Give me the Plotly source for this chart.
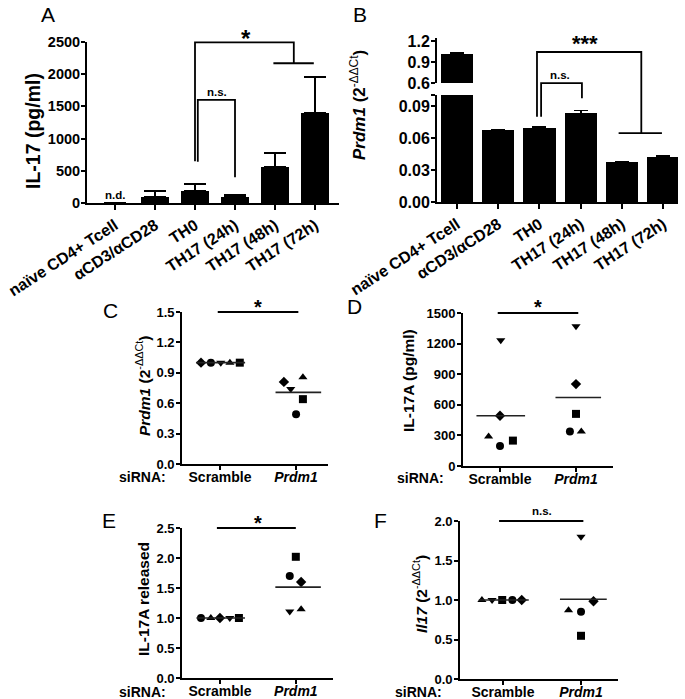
import numpy as np
import plotly.graph_objects as go

W, H = 685, 699
FONT = "Liberation Sans"

# ---------------- data ----------------
A_categories = ["naïve CD4+ Tcell", "αCD3/αCD28", "TH0", "TH17 (24h)", "TH17 (48h)", "TH17 (72h)"]
A_il17 = [0, 100, 187, 94, 565, 1400]
A_il17_err = [0, 85, 113, 36, 215, 560]

B_categories = A_categories
B_prdm1 = [1.02, 0.0673, 0.0697, 0.0832, 0.0373, 0.0425]
B_prdm1_err = [0.015, 0.0006, 0.0008, 0.0028, 0.0004, 0.0005]

groups = ["Scramble", "Prdm1"]
group_labels = ["Scramble", "<i>Prdm1</i>"]

C_scramble = [1.0, 1.0, 1.0, 1.0, 1.0]
C_prdm1 = [0.81, 0.74, 0.855, 0.64, 0.49]
D_scramble = [1233, 492, 289, 197, 249]
D_prdm1 = [1370, 803, 511, 338, 338]
E_scramble = [1.0, 1.0, 1.0, 1.0, 1.0]
E_prdm1 = [2.02, 1.70, 1.60, 1.11, 1.145]
F_scramble = [1.0, 1.0, 1.0, 1.0, 1.0]
F_prdm1 = [1.80, 0.985, 0.87, 0.85, 0.547]

# marker symbols per point (one per donor) and horizontal jitter (style)
SYM = {
    "C": (["diamond", "circle", "triangle-down", "triangle-up", "square"],
          ["diamond", "triangle-down", "triangle-up", "square", "circle"]),
    "D": (["triangle-down", "diamond", "triangle-up", "circle", "square"],
          ["triangle-down", "diamond", "square", "circle", "triangle-up"]),
    "E": (["circle", "triangle-up", "diamond", "triangle-down", "square"],
          ["square", "circle", "diamond", "triangle-down", "triangle-up"]),
    "F": (["triangle-up", "triangle-down", "square", "circle", "diamond"],
          ["triangle-down", "diamond", "triangle-up", "circle", "square"]),
}
JIT = {
    "C": ([-0.25, -0.12, 0.01, 0.13, 0.26], [-0.16, -0.07, 0.09, 0.09, 0.0]),
    "D": ([0.01, 0.0, -0.15, 0.0, 0.17], [0.0, 0.0, 0.0, -0.08, 0.07]),
    "E": ([-0.25, -0.12, 0.0, 0.13, 0.25], [0.0, -0.08, 0.07, -0.08, 0.07]),
    "F": ([-0.27, -0.14, -0.01, 0.12, 0.24], [0.0, 0.16, -0.16, 0.0, 0.0]),
}

# ---------------- layout geometry (pixels -> paper) ----------------
def sx(px):
    return px / W

def sy(py):
    return 1 - py / H

def xdom(a, b):
    return [sx(a), sx(b)]

def ydom(top, bot):
    return [sy(bot), sy(top)]

AX = {
    "A": dict(x="x", y="y", xd=xdom(87, 339), yd=ydom(42, 203), xr=[-0.7, 5.6], yr=[0, 2500]),
    "B": dict(x="x2", y="y2", xd=xdom(437, 678), yd=ydom(95, 202), xr=[-0.485, 5.36], yr=[0, 0.1005]),
    "Bu": dict(x="x3", y="y3", xd=xdom(437, 678), yd=ydom(38, 83), xr=[-0.485, 5.36], yr=[0.6, 1.243]),
    "C": dict(x="x4", y="y4", xd=xdom(182, 328), yd=ydom(312, 464), xr=[-0.5, 1.42], yr=[0, 1.5]),
    "D": dict(x="x5", y="y5", xd=xdom(463, 613), yd=ydom(313, 466), xr=[-0.487, 1.487], yr=[0, 1500]),
    "E": dict(x="x6", y="y6", xd=xdom(182, 333), yd=ydom(528, 678), xr=[-0.5, 1.49], yr=[0, 2.5]),
    "F": dict(x="x7", y="y7", xd=xdom(460, 618), yd=ydom(521, 679), xr=[-0.551, 1.474], yr=[0, 2.0]),
}

def P(ax, xv, yv):
    a = AX[ax]
    xd, xr, yd, yr = a["xd"], a["xr"], a["yd"], a["yr"]
    px = xd[0] + (xv - xr[0]) / (xr[1] - xr[0]) * (xd[1] - xd[0])
    py = yd[0] + (yv - yr[0]) / (yr[1] - yr[0]) * (yd[1] - yd[0])
    return px, py

def aname(ref):
    return ref[0] + "axis" + ref[1:]

fig = go.Figure()

# ---------------- panel A bars ----------------
fig.add_bar(x=A_categories, y=A_il17, xaxis="x", yaxis="y", width=0.7,
            marker=dict(color="black", line=dict(width=0)),
            error_y=dict(type="data", array=A_il17_err, arrayminus=[0] * len(A_il17),
                         symmetric=False, color="black", thickness=1.8, width=11))

# ---------------- panel B bars (broken axis) ----------------
for xr_, yr_ in (("x2", "y2"), ("x3", "y3")):
    fig.add_bar(x=B_categories, y=B_prdm1, xaxis=xr_, yaxis=yr_, width=0.78,
                marker=dict(color="black", line=dict(width=0)),
                error_y=dict(type="data", array=B_prdm1_err, arrayminus=[0] * len(B_prdm1),
                             symmetric=False, color="black", thickness=1.8, width=7))

# ---------------- scatter panels ----------------
scatter_data = {"C": (C_scramble, C_prdm1), "D": (D_scramble, D_prdm1),
                "E": (E_scramble, E_prdm1), "F": (F_scramble, F_prdm1)}
mean_ext = [(-0.31, 0.33), (-0.27, 0.33)]
for key, (sv, pv) in scatter_data.items():
    a = AX[key]
    for gi, vals in enumerate((sv, pv)):
        xs = [gi + j for j in JIT[key][gi]]
        fig.add_scatter(x=xs, y=vals, xaxis=a["x"], yaxis=a["y"], mode="markers",
                        marker=dict(symbol=SYM[key][gi], size=8, color="black",
                                    line=dict(width=0)),
                        cliponaxis=False)
        m = float(np.mean(vals))
        lo, hi = mean_ext[gi]
        fig.add_scatter(x=[gi + lo, gi + hi], y=[m, m], xaxis=a["x"], yaxis=a["y"],
                        mode="lines", line=dict(color="#222", width=1.6))

# ---------------- axes ----------------
base = dict(showline=True, linecolor="black", ticks="outside", tickcolor="black",
            showgrid=False, zeroline=False, mirror=False, fixedrange=True, automargin=False)
layout_axes = {}
tf = lambda s: dict(family=FONT, size=s, color="black", weight="bold")

# A
layout_axes["xaxis"] = dict(base, domain=AX["A"]["xd"], range=AX["A"]["xr"], anchor="y",
                            type="category", tickangle=-33, tickfont=tf(16),
                            linewidth=2, tickwidth=2, ticklen=5)
layout_axes["yaxis"] = dict(base, domain=AX["A"]["yd"], range=AX["A"]["yr"], anchor="x",
                            tickvals=[0, 500, 1000, 1500, 2000, 2500], tickformat="d",
                            tickfont=tf(14.5), linewidth=2, tickwidth=2, ticklen=4,
                            ticklabelstandoff=-2)
# B
layout_axes["xaxis2"] = dict(base, domain=AX["B"]["xd"], range=AX["B"]["xr"], anchor="y2",
                             type="category", tickangle=-33, tickfont=tf(16),
                             linewidth=2, tickwidth=2, ticklen=5)
layout_axes["yaxis2"] = dict(base, domain=AX["B"]["yd"], range=AX["B"]["yr"], anchor="x2",
                             tickvals=[0, 0.03, 0.06, 0.09, 0.1003],
                             ticktext=["0.00", "0.03", "0.06", "0.09", ""],
                             tickfont=tf(16), linewidth=2, tickwidth=2, ticklen=4,
                             ticklabelstandoff=-2)
layout_axes["xaxis3"] = dict(domain=AX["Bu"]["xd"], range=AX["Bu"]["xr"], anchor="y3",
                             type="category", visible=False, fixedrange=True, automargin=False)
layout_axes["yaxis3"] = dict(base, domain=AX["Bu"]["yd"], range=AX["Bu"]["yr"], anchor="x3",
                             tickvals=[0.6, 0.9, 1.2], ticktext=["0.6", "0.9", "1.2"],
                             tickfont=tf(16), linewidth=2, tickwidth=2, ticklen=4,
                             ticklabelstandoff=-2)
# C-F
ytick_sets = {"C": [0, 0.3, 0.6, 0.9, 1.2, 1.5], "D": [0, 300, 600, 900, 1200, 1500],
              "E": [0, 0.5, 1.0, 1.5, 2.0, 2.5], "F": [0, 0.5, 1.0, 1.5, 2.0]}
yfmt = {"C": ".1f", "D": "d", "E": ".1f", "F": ".1f"}
for key in "CDEF":
    a = AX[key]
    layout_axes[aname(a["x"])] = dict(base, domain=a["xd"], range=a["xr"], anchor=a["y"],
                                      tickvals=[0, 1], ticktext=group_labels,
                                      tickfont=tf(14), linewidth=1.8, tickwidth=1.8, ticklen=4,
                                      ticklabelstandoff=-5)
    layout_axes[aname(a["y"])] = dict(base, domain=a["yd"], range=a["yr"], anchor=a["x"],
                                      tickvals=ytick_sets[key], tickformat=yfmt[key],
                                      tickfont=tf(13), linewidth=1.8, tickwidth=1.8, ticklen=4,
                                      ticklabelstandoff=-1)

# ---------------- brackets ----------------
shapes = []
def poly(pts, width=1.8):
    d = "M " + " L ".join(f"{x:.5f},{y:.5f}" for x, y in pts)
    shapes.append(dict(type="path", path=d, xref="paper", yref="paper",
                       line=dict(color="black", width=width)))

# A: n.s. and * brackets
poly([P("A", 2.07, 640), P("A", 2.07, 1600), P("A", 3.0, 1600), P("A", 3.0, 400)])
poly([P("A", 2.0, 650), P("A", 2.0, 2495), P("A", 4.47, 2495), P("A", 4.47, 2170)])
poly([P("A", 3.96, 2170), P("A", 4.97, 2170)])
# B: n.s. and *** brackets (across the broken axis)
poly([P("B", 2.04, 0.080), P("B", 2.04, 0.1116), P("B", 3.03, 0.1116), P("B", 3.03, 0.0975)])
poly([P("B", 1.94, 0.080), P("Bu", 1.94, 1.043), P("Bu", 4.47, 1.043), P("B", 4.47, 0.0647)])
poly([P("B", 3.92, 0.0647), P("B", 4.97, 0.0647)])
# C-F significance lines
poly([P("C", -0.03, 1.5), P("C", 1.03, 1.5)])
poly([P("D", -0.03, 1500), P("D", 1.03, 1500)])
poly([P("E", -0.04, 2.5), P("E", 1.0, 2.5)])
poly([P("F", -0.05, 2.0), P("F", 1.03, 2.0)])

# ---------------- annotations ----------------
ann = []
def text(x, y, s, size, bold=True, angle=0, xanchor="center", yanchor="middle"):
    ann.append(dict(x=x, y=y, xref="paper", yref="paper", text=s, showarrow=False,
                    textangle=angle, xanchor=xanchor, yanchor=yanchor,
                    font=dict(family=FONT, size=size, color="black",
                              weight="bold" if bold else "normal")))

def pxp(px, py):
    return sx(px), sy(py)

# panel letters
for lab, (lx, ly) in {"A": (48, 15), "B": (360, 15), "C": (110, 310), "D": (354, 307),
                      "E": (109, 520), "F": (380, 520)}.items():
    text(*pxp(lx, ly), lab, 21, bold=False)

# significance labels
text(*P("A", 3.27, 2560), "*", 24)
text(*P("A", 2.55, 1720), "n.s.", 11.5)
text(*P("A", 0, 130), "n.d.", 11.5)
text(*P("Bu", 3.1, 1.17), "***", 22)
text(*P("B", 2.5, 0.1195), "n.s.", 11.5)
text(*P("C", 0.5, 1.55), "*", 20)
text(*P("D", 0.5, 1555), "*", 20)
text(*P("E", 0.5, 2.59), "*", 20)
text(*P("F", 0.5, 2.13), "n.s.", 11.5)

# y titles
sup = "<span style='font-weight:normal'><sup>-ΔΔCt</sup></span>"
text(*pxp(33, 131), "IL-17 (pg/ml)", 19.5, angle=-90)
text(*pxp(358, 105), "<i>Prdm1</i> (2" + sup + ")", 17, angle=-90)
text(*pxp(143, 386), "<i>Prdm1</i> (2" + sup + ")", 15.5, angle=-90)
text(*pxp(408, 381), "IL-17A (pg/ml)", 15.5, angle=-90)
text(*pxp(143, 599), "IL-17A released", 15.5, angle=-90)
text(*pxp(420, 594), "<i>Il17</i> (2" + sup + ")", 15.5, angle=-90)

# siRNA labels
for lx, ly in ((142, 477), (420, 478), (142, 692), (418, 692)):
    text(*pxp(lx, ly), "siRNA:", 14)

fig.update_layout(template="none", width=W, height=H, margin=dict(l=0, r=0, t=0, b=0, pad=0),
                  paper_bgcolor="white", plot_bgcolor="white", showlegend=False,
                  bargap=0, shapes=shapes, annotations=ann,
                  font=dict(family=FONT, color="black"), **layout_axes)

fig.write_html("out.html", config={"displayModeBar": False},
               post_script="document.body.style.margin='0px';")
